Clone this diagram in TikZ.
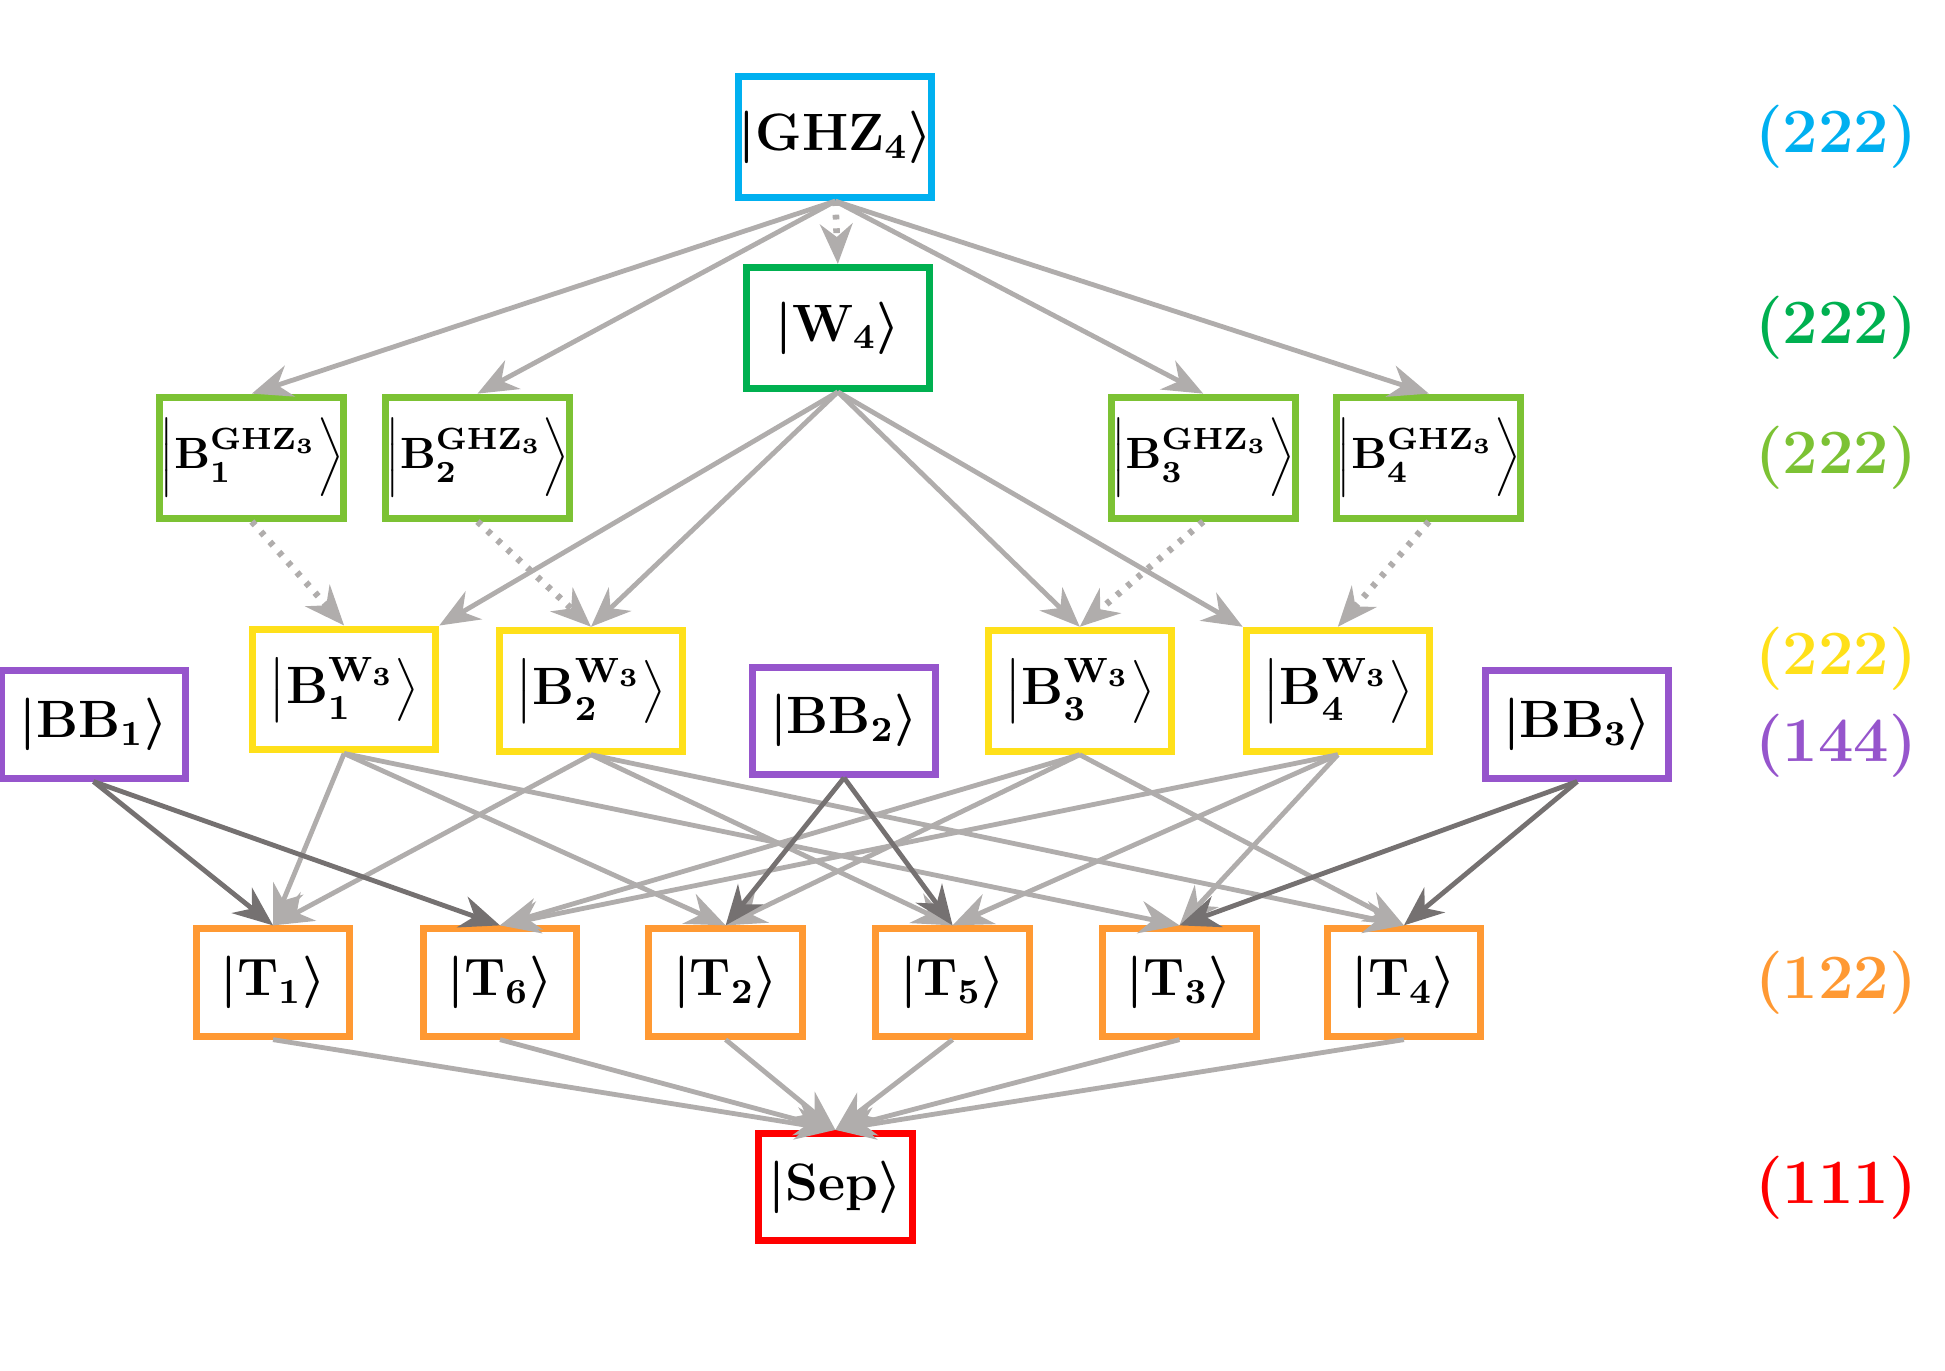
\documentclass[tikz,border=0pt]{standalone}
\usepackage{amsmath,bm}
\usepackage{xcolor}
\usepackage{tikz}
\usetikzlibrary{positioning,arrows.meta,calc}
\definecolor{cghz}{HTML}{00B0F0}
\definecolor{cw}{HTML}{00B050}
\definecolor{cbg}{HTML}{7CC234}
\definecolor{cbw}{HTML}{FFE01A}
\definecolor{cbb}{HTML}{9655CC}
\definecolor{ct}{HTML}{FF9933}
\definecolor{csep}{HTML}{FF0000}
\definecolor{lgray}{HTML}{B0ADAC}
\definecolor{dgray}{HTML}{757171}
\newcommand{\ket}[1]{$\boldsymbol{|}\mathbf{#1}\boldsymbol{\rangle}$}
\newcommand{\bket}[3]{$\boldsymbol{\left|\mathbf{B}_{\mathbf{#1}}^{\mathbf{#2}_{\mathbf{#3}}}\right\rangle}$}
\begin{document}
\begin{tikzpicture}[font=\large\bfseries\boldmath,
		state/.style={draw, line width=1.6pt, fill=white, minimum height=0.86cm, inner sep=0pt},
		big/.style={state, minimum width=1.47cm, minimum height=0.97cm},
		small/.style={state, minimum width=1.23cm},
		arr/.style={lgray, line width=1.1pt, -{Stealth[length=3.2mm,width=2.6mm]}},
		darr/.style={arr, dgray},
		dotarr/.style={arr, dotted, line width=1.5pt},
		lvl/.style={anchor=east, font=\Large\bfseries}]
		\useasboundingbox (0,0) rectangle (15.6,-10.99);
		% nodes
		\node[big, draw=cghz] (ghz) at (6.70,-1.10) {\ket{GHZ_4}};
		\node[big, draw=cw] (w) at (6.72,-2.63) {\ket{W_4}};
		\begin{scope}[font=\normalsize\bfseries\boldmath]
		\node[big, draw=cbg] (bg1) at (2.02,-3.67) {\bket{1}{GHZ}{3}};
		\node[big, draw=cbg] (bg2) at (3.83,-3.67) {\bket{2}{GHZ}{3}};
		\node[big, draw=cbg] (bg3) at (9.65,-3.67) {\bket{3}{GHZ}{3}};
		\node[big, draw=cbg] (bg4) at (11.46,-3.67) {\bket{4}{GHZ}{3}};
		\end{scope}
		\node[big, draw=cbw] (bw1) at (2.76,-5.53) {\bket{1}{W}{3}};
		\node[big, draw=cbw] (bw2) at (4.74,-5.54) {\bket{2}{W}{3}};
		\node[big, draw=cbw] (bw3) at (8.66,-5.54) {\bket{3}{W}{3}};
		\node[big, draw=cbw] (bw4) at (10.73,-5.54) {\bket{4}{W}{3}};
		\node[big, draw=cbb, minimum height=0.86cm] (bb1) at (0.75,-5.81) {\ket{BB_1}};
		\node[big, draw=cbb, minimum height=0.86cm] (bb2) at (6.77,-5.78) {\ket{BB_2}};
		\node[big, draw=cbb, minimum height=0.86cm] (bb3) at (12.65,-5.81) {\ket{BB_3}};
		\node[small, draw=ct] (t1) at (2.19,-7.88) {\ket{T_1}};
		\node[small, draw=ct] (t6) at (4.01,-7.88) {\ket{T_6}};
		\node[small, draw=ct] (t2) at (5.82,-7.88) {\ket{T_2}};
		\node[small, draw=ct] (t5) at (7.64,-7.88) {\ket{T_5}};
		\node[small, draw=ct] (t3) at (9.46,-7.88) {\ket{T_3}};
		\node[small, draw=ct] (t4) at (11.26,-7.88) {\ket{T_4}};
		\node[small, draw=csep] (sep) at (6.70,-9.52) {\ket{Sep}};
		% level labels
		\node[lvl, cghz] (l1) at (15.5,-1.10) {(222)};
		\node[lvl, cw] (l2) at (15.5,-2.63) {(222)};
		\node[lvl, cbg] (l3) at (15.5,-3.67) {(222)};
		\node[lvl, cbw] (l4) at (15.5,-5.28) {(222)};
		\node[lvl, cbb] (l5) at (15.5,-5.98) {(144)};
		\node[lvl, ct] (l6) at (15.5,-7.88) {(122)};
		\node[lvl, csep] (l7) at (15.5,-9.53) {(111)};
		% edges
		\draw[dotarr] (ghz.south) -- (w.north);
		\foreach \n in {bg1,bg2,bg3,bg4}
			\draw[arr] (ghz.south) -- (\n.north);
		\draw[arr] (w.south) -- (bw1.north east);
		\draw[arr] (w.south) -- (bw2.north);
		\draw[arr] (w.south) -- (bw3.north);
		\draw[arr] (w.south) -- (bw4.north west);
		\foreach \i in {1,...,4}
			\draw[dotarr] (bg\i.south) -- (bw\i.north);
		\foreach \s/\t in {bw1/t1,bw1/t2,bw1/t3,bw2/t1,bw2/t5,bw2/t4,
				bw3/t6,bw3/t2,bw3/t4,bw4/t6,bw4/t5,bw4/t3}
			\draw[arr] (\s.south) -- (\t.north);
		\foreach \s/\t in {bb1/t1,bb1/t6,bb2/t2,bb2/t5,bb3/t3,bb3/t4}
			\draw[darr] (\s.south) -- (\t.north);
		\foreach \t in {t1,t6,t2,t5,t3,t4}
			\draw[arr] (\t.south) -- (sep.north);
	\end{tikzpicture}
\end{document}
